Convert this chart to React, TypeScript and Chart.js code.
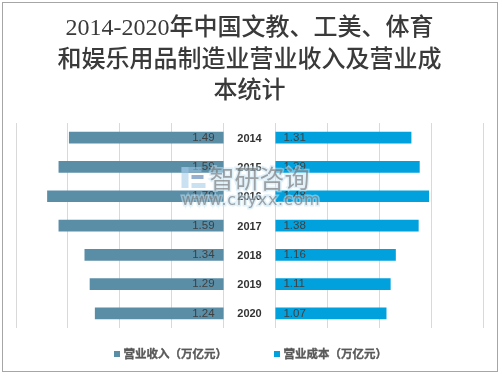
import React, { useEffect, useRef } from "react";
import { Chart, registerables } from "chart.js";

Chart.register(...registerables);

// ---- data ----
const years = ["2014", "2015", "2016", "2017", "2018", "2019", "2020"];
const revenue = [1.49, 1.59, 1.7, 1.59, 1.34, 1.29, 1.24];
const cost = [1.31, 1.39, 1.48, 1.38, 1.16, 1.11, 1.07];
const seriesNames = ["营业收入（万亿元）", "营业成本（万亿元）"];
const gridSteps = [0, 0.5, 1, 1.5, 2];
const titleLines = [
  "2014-2020年中国文教、工美、体育",
  "和娱乐用品制造业营业收入及营业成",
  "本统计",
];
const watermarkName = "智研咨询";
const watermarkUrl = "www.chyxx.com";

// ---- layout constants (not data) ----
const GAP = 0.25; // half width of the centre gap, in value units
const AXIS_MAX = GAP + gridSteps[gridSteps.length - 1];
const colors = ["#5a8ea7", "#00a1dc"];

const tickValues = [
  ...gridSteps.map((s) => -(GAP + s)).reverse(),
  ...gridSteps.map((s) => GAP + s),
];

const butterflyPlugin = {
  id: "butterfly",
  beforeDraw(chart: any) {
    const { ctx, width, height } = chart;
    ctx.save();
    ctx.fillStyle = "#ffffff";
    ctx.fillRect(0, 0, width, height);
    ctx.restore();
  },
  afterDatasetsDraw(chart: any) {
    const { ctx } = chart;
    const x = chart.scales.x;
    const y = chart.scales.y;
    ctx.save();
    ctx.textBaseline = "middle";
    ctx.font = '11.5px "Liberation Sans", Arial, sans-serif';
    ctx.fillStyle = "#404040";
    revenue.forEach((v, i) => {
      ctx.textAlign = "right";
      ctx.fillText(v.toFixed(2), x.getPixelForValue(-GAP) - 9, y.getPixelForValue(i));
    });
    cost.forEach((v, i) => {
      ctx.textAlign = "left";
      ctx.fillText(v.toFixed(2), x.getPixelForValue(GAP) + 8, y.getPixelForValue(i));
    });
    ctx.font = 'bold 11px "Liberation Sans", Arial, sans-serif';
    ctx.fillStyle = "#333333";
    ctx.textAlign = "center";
    years.forEach((yr, i) => {
      ctx.fillText(yr, x.getPixelForValue(0), y.getPixelForValue(i) + 1);
    });
    ctx.restore();
  },
  afterDraw(chart: any) {
    const { ctx, chartArea } = chart;
    const cx = (chartArea.left + chartArea.right) / 2;
    ctx.save();

    // watermark
    const wx = cx - 68;
    ctx.globalAlpha = 0.55;
    ctx.fillStyle = "#9ec9e8";
    ctx.fillRect(wx, 167, 7, 21);
    ctx.fillRect(wx, 167, 20, 5);
    ctx.fillStyle = "#3f6fa8";
    ctx.fillRect(wx + 10, 175, 12, 4);
    ctx.fillStyle = "#9ec9e8";
    ctx.fillRect(wx + 10, 183, 14, 5);
    ctx.globalAlpha = 0.6;
    ctx.font = '25px "Noto Sans CJK SC", sans-serif';
    ctx.textBaseline = "middle";
    ctx.textAlign = "left";
    ctx.lineWidth = 3;
    ctx.strokeStyle = "rgba(200,230,245,0.9)";
    ctx.strokeText(watermarkName, wx + 28, 178);
    ctx.fillStyle = "#6d6d6d";
    ctx.fillText(watermarkName, wx + 28, 178);
    ctx.font = '16px "DejaVu Sans", sans-serif';
    const natural = ctx.measureText(watermarkUrl).width;
    const spacing = Math.max(0, (138 - natural) / (watermarkUrl.length - 1));
    (ctx as any).letterSpacing = spacing + "px";
    ctx.strokeText(watermarkUrl, wx, 201);
    ctx.fillText(watermarkUrl, wx, 201);
    (ctx as any).letterSpacing = "0px";
    ctx.globalAlpha = 1;

    // legend
    ctx.font = 'bold 11.5px "Noto Sans CJK SC", sans-serif';
    ctx.textBaseline = "middle";
    ctx.textAlign = "left";
    const box = 6;
    const boxGap = 3.5;
    const itemGap = 47;
    const widths = seriesNames.map((n) => box + boxGap + ctx.measureText(n).width);
    const total = widths.reduce((a, b) => a + b, 0) + itemGap * (widths.length - 1);
    let lx = cx - total / 2 + 1;
    const ly = 354;
    seriesNames.forEach((n, i) => {
      ctx.fillStyle = colors[i];
      ctx.fillRect(lx, ly - box / 2, box, box);
      ctx.fillStyle = "#595959";
      ctx.strokeStyle = "#595959";
      ctx.lineWidth = 0.35;
      ctx.fillText(n, lx + box + boxGap, ly);
      ctx.strokeText(n, lx + box + boxGap, ly);
      lx += widths[i] + itemGap;
    });

    // outer frame
    ctx.strokeStyle = "#a6a6a6";
    ctx.lineWidth = 1;
    ctx.strokeRect(2.5, 2.5, 495, 369);
    ctx.restore();
  },
};

export default function App() {
  const ref = useRef<HTMLCanvasElement | null>(null);

  useEffect(() => {
    if (!ref.current) return;
    const chart = new Chart(ref.current, {
      type: "bar",
      data: {
        labels: years,
        datasets: [
          {
            label: seriesNames[0],
            data: revenue.map((v) => [-(GAP + v), -GAP]) as any,
            backgroundColor: colors[0],
            borderWidth: 0,
          },
          {
            label: seriesNames[1],
            data: cost.map((v) => [GAP, GAP + v]) as any,
            backgroundColor: colors[1],
            borderWidth: 0,
          },
        ],
      },
      options: {
        responsive: false,
        animation: false,
        indexAxis: "y",
        grouped: false,
        barPercentage: 0.4,
        categoryPercentage: 1,
        layout: { padding: { top: 3, left: 16, right: 19, bottom: 50 } },
        plugins: {
          legend: { display: false },
          tooltip: { enabled: false },
          title: {
            display: true,
            text: titleLines,
            color: "#3a3a3a",
            font: {
              family: '"Liberation Serif", "Noto Sans CJK SC", serif',
              size: 24,
              weight: "500",
              lineHeight: 1.32,
            },
            padding: { top: 10, bottom: 15 },
          },
        },
        scales: {
          x: {
            type: "linear",
            min: -AXIS_MAX,
            max: AXIS_MAX,
            afterBuildTicks: (s: any) => {
              s.ticks = tickValues.map((v) => ({ value: v }));
            },
            ticks: { display: false },
            grid: { color: "#d9d9d9", drawTicks: false, lineWidth: 1 },
            border: { display: false },
          },
          y: {
            type: "category",
            display: false,
            offset: true,
            grid: { display: false },
          },
        },
      } as any,
      plugins: [butterflyPlugin],
    });
    return () => chart.destroy();
  }, []);

  return (
    <div style={{ position: "absolute", left: 0, top: 0, width: 502, height: 378 }}>
      <canvas ref={ref} width={502} height={378} style={{ display: "block" }} />
    </div>
  );
}
